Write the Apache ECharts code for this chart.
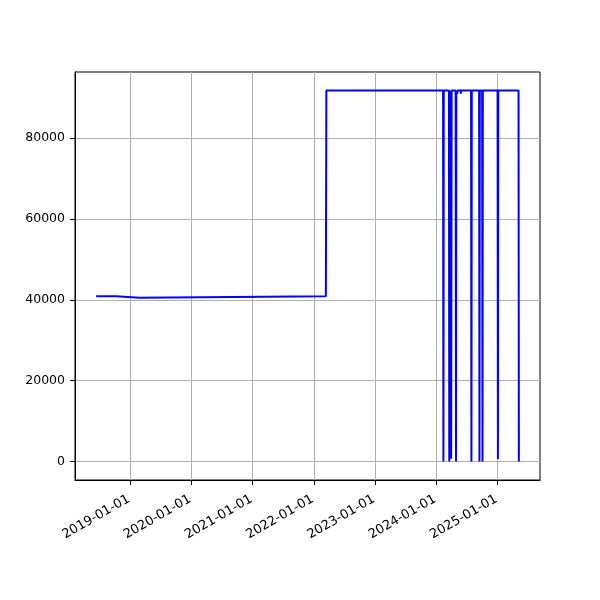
<!DOCTYPE html>
<html>
<head>
<meta charset="utf-8">
<script src="https://cdn.jsdelivr.net/npm/echarts@6/dist/echarts.min.js"></script>
<style>
html,body{margin:0;padding:0;background:#fff;}
#chart{width:600px;height:600px;}
</style>
</head>
<body>
<div id="chart"></div>
<script>
// ---- data ----
const dates = [
  '2018-06-13', '2018-10-10', '2018-10-12', '2019-02-25', '2019-02-27',
  '2022-03-14', '2022-03-17',
  '2024-02-11', '2024-02-13', '2024-02-15',
  '2024-03-17', '2024-03-19', '2024-03-21',
  '2024-03-28', '2024-03-30', '2024-04-02',
  '2024-04-26', '2024-04-28', '2024-04-30',
  '2024-05-05', '2024-05-06', '2024-05-07',
  '2024-05-26', '2024-05-27', '2024-05-28',
  '2024-07-27', '2024-07-29', '2024-07-31',
  '2024-09-13', '2024-09-15', '2024-09-17',
  '2024-10-01', '2024-10-03', '2024-10-05',
  '2025-01-01', '2025-01-03', '2025-01-05',
  '2025-05-06', '2025-05-08'
];
const values = [
  40900, 40900, 40500, 40500, 40900,
  40900, 91800,
  91800, 0, 91800,
  91800, 0, 91800,
  91800, 700, 91800,
  91800, 0, 91800,
  91800, 91000, 91800,
  91800, 91000, 91800,
  91800, 0, 91800,
  91800, 0, 91800,
  91800, 0, 91800,
  91800, 600, 91800,
  91800, 0
];
const yTicks = [0, 20000, 40000, 60000, 80000];
const xTickYears = [2019, 2020, 2021, 2022, 2023, 2024, 2025];
const xRange = ['2018-02-07', '2025-09-11'];
const yRange = [-4590, 96390];

// ---- chart ----
function pad(n){ return (n < 10 ? '0' : '') + n; }
function parseDay(s){ const p = s.split('-').map(Number); return Date.UTC(p[0], p[1]-1, p[2]); }
const seriesData = dates.map((d, i) => [parseDay(d), values[i]]);
const xTicks = xTickYears.map(y => Date.UTC(y, 0, 1));
const font = 'DejaVu Sans';

const chart = echarts.init(document.getElementById('chart'), null, {renderer: 'canvas'});
chart.setOption({
  animation: false,
  backgroundColor: '#ffffff',
  grid: {
    left: 75, right: 60, top: 72, bottom: 120,
    show: true, borderColor: '#000000', borderWidth: 1, backgroundColor: 'transparent'
  },
  xAxis: {
    type: 'value',
    min: parseDay(xRange[0]),
    max: parseDay(xRange[1]),
    axisLine: {show: true, onZero: false, lineStyle: {color: '#000', width: 1}},
    axisTick: {show: true, length: 5, inside: false, lineStyle: {color: '#000', width: 1}, customValues: xTicks},
    axisLabel: {
      customValues: xTicks,
      rotate: 30,
      align: 'right',
      verticalAlign: 'top',
      margin: 10,
      padding: [0, 5, 0, 0],
      color: '#000',
      fontFamily: font,
      fontSize: 13,
      hideOverlap: false,
      formatter: function (v) {
        const d = new Date(v);
        return d.getUTCFullYear() + '-' + pad(d.getUTCMonth() + 1) + '-' + pad(d.getUTCDate());
      }
    },
    splitLine: {show: true, lineStyle: {color: '#b0b0b0', width: 1}}
  },
  yAxis: {
    type: 'value',
    min: yRange[0],
    max: yRange[1],
    axisLine: {show: true, onZero: false, lineStyle: {color: '#000', width: 1}},
    axisTick: {show: true, length: 5, lineStyle: {color: '#000', width: 1}, customValues: yTicks},
    axisLabel: {
      customValues: yTicks,
      margin: 10,
      color: '#000',
      fontFamily: font,
      fontSize: 12.5,
      formatter: function (v) { return String(v); }
    },
    splitLine: {show: true, lineStyle: {color: '#b0b0b0', width: 1}}
  },
  series: [{
    type: 'line',
    data: seriesData,
    showSymbol: false,
    symbol: 'none',
    lineStyle: {color: '#0000ff', width: 2},
    itemStyle: {color: '#0000ff'}
  }]
});
</script>
</body>
</html>
